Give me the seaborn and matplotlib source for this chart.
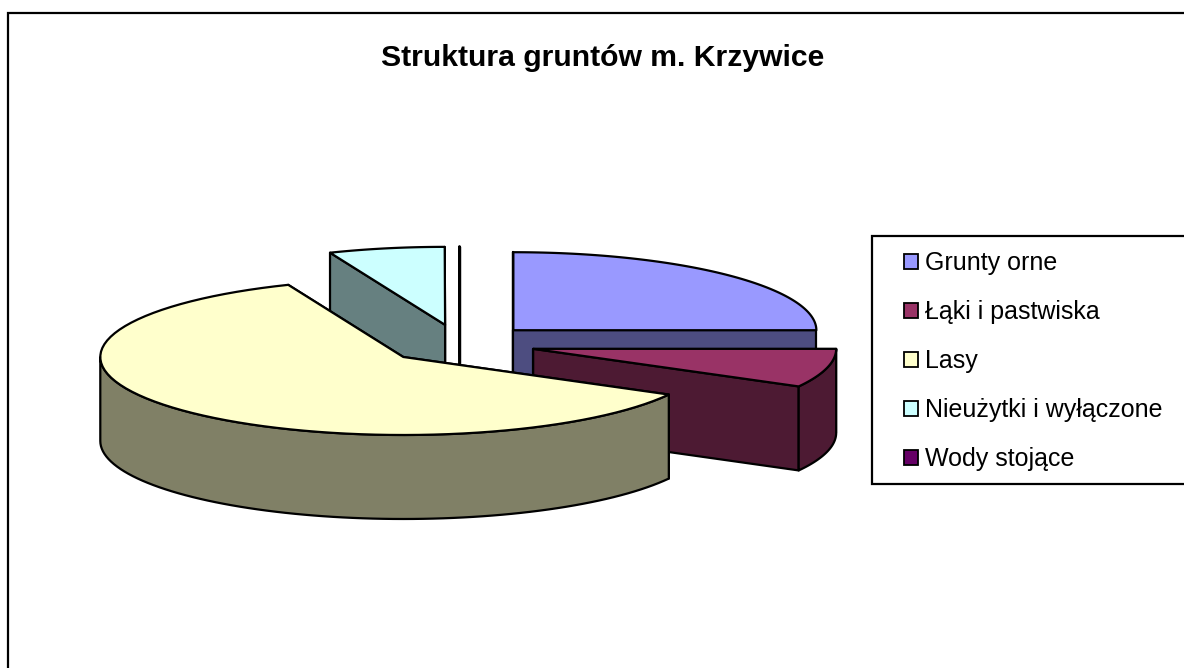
import numpy as np
import seaborn as sns
import matplotlib
matplotlib.use('Agg')
import matplotlib.pyplot as plt
from matplotlib.patches import Patch, Polygon, Rectangle

# =================== Data ===================

categories = ['Grunty orne', 'Łąki i pastwiska', 'Lasy', 'Nieużytki i wyłączone', 'Wody stojące']
shares = [25.0, 8.0, 60.8, 6.18, 0.02]
top_colors = ['#9999FF', '#993366', '#FFFFCC', '#CCFFFF', '#660066']
title = 'Struktura gruntów m. Krzywice'

# =================== Layout (pixels) ===================

WIDTH, HEIGHT = 1184, 668
CENTER_X, CENTER_Y = 459.8, 344
RADIUS_X, RADIUS_Y = 303, 78
DEPTH = 84
EXPLODE = 0.25
LINE = 1.6

# =================== Plot ===================

def arc(cx, cy, start, end, n=80):
    t = np.radians(np.linspace(start, end, n))
    return np.column_stack([cx + RADIUS_X * np.sin(t), cy - RADIUS_Y * np.cos(t)])

def shift(points):
    return points + np.array([0, DEPTH])

def add_poly(ax, points, color):
    ax.add_patch(Polygon(points, closed=True, facecolor=color, edgecolor='black',
                         linewidth=LINE, joinstyle='round'))

def draw_slice(ax, start, end, color):
    mid = np.radians((start + end) / 2)
    cx = CENTER_X + EXPLODE * RADIUS_X * np.sin(mid)
    cy = CENTER_Y - EXPLODE * RADIUS_Y * np.cos(mid)
    apex = np.array([[cx, cy]])
    dark = tuple(c * 0.5 for c in matplotlib.colors.to_rgb(color))

    # Cut faces first, the one further back goes down first
    for angle in sorted([start, end], key=lambda a: -np.cos(np.radians(a))):
        edge = arc(cx, cy, angle, angle, 1)
        face = np.vstack([apex, edge, shift(edge), shift(apex)])
        add_poly(ax, face, dark)

    # Outer wall, only the front half of the rim can be seen
    low, high = max(start, 90), min(end, 270)
    if high > low:
        rim = arc(cx, cy, low, high)
        add_poly(ax, np.vstack([rim, shift(rim)[::-1]]), dark)

    add_poly(ax, np.vstack([apex, arc(cx, cy, start, end)]), color)

def plot_pie(ax):
    total = sum(shares)
    edges = np.concatenate([[0], np.cumsum(shares)]) * 360 / total
    slices = list(zip(edges[:-1], edges[1:], top_colors))
    # Paint from back to front, by how far up the exploded slice sits
    slices.sort(key=lambda s: CENTER_Y - EXPLODE * RADIUS_Y * np.cos(np.radians((s[0] + s[1]) / 2)))
    for start, end, color in slices:
        draw_slice(ax, start, end, color)

def main():
    sns.set_theme(style='white')
    plt.rcParams['font.family'] = ['Liberation Sans', 'DejaVu Sans']

    fig = plt.figure(figsize=(WIDTH / 100, HEIGHT / 100), dpi=100)
    ax = fig.add_axes([0, 0, 1, 1])
    ax.set_xlim(0, WIDTH)
    ax.set_ylim(HEIGHT, 0)
    ax.axis('off')

    # Chart area border, it runs off the right and the bottom of the picture
    ax.add_patch(Rectangle((8, 13), WIDTH, HEIGHT, facecolor='white', edgecolor='black', linewidth=LINE))

    plot_pie(ax)

    ax.text(602.5, 58, title, ha='center', va='center', fontsize=21.7, fontweight='bold', color='black')

    # Legend box also runs off the right side
    ax.add_patch(Rectangle((872, 236), WIDTH, 248, facecolor='white', edgecolor='black', linewidth=LINE))
    handles = [Patch(facecolor=c, edgecolor='black', linewidth=1.3) for c in top_colors]
    ax.legend(handles, categories, loc='upper left', bbox_to_anchor=(904 / WIDTH, 1 - 251 / HEIGHT),
              bbox_transform=fig.transFigure, borderaxespad=0, borderpad=0, fontsize=18,
              frameon=False, labelcolor='black', labelspacing=1.0,
              handlelength=0.56, handleheight=0.56, handletextpad=0.28)

    fig.savefig('out.png', dpi=100, facecolor='white')

if __name__ == '__main__':
    main()
